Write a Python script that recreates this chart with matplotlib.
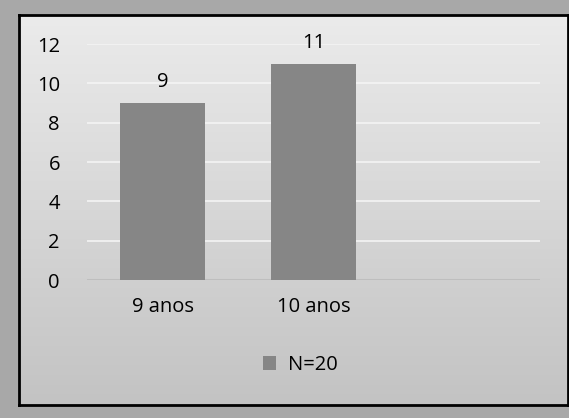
import matplotlib
matplotlib.use("Agg")
import matplotlib.pyplot as plt
import numpy as np
from matplotlib.colors import LinearSegmentedColormap

categories = ["9 anos", "10 anos", ""]
values = [9, 11, None]
series_name = "N=20"
yticks = [0, 2, 4, 6, 8, 10, 12]

W, H = 569, 418
fig = plt.figure(figsize=(W / 100, H / 100), dpi=100)
fig.patch.set_facecolor("#a8a8a8")
plt.rcParams['font.family'] = ['Open Sans', 'DejaVu Sans']
FS = 14.5

# background panel with gradient
x0, y0, x1, y1 = 19, 15, 568, 405
bg = fig.add_axes([x0 / W, 1 - y1 / H, (x1 - x0) / W, (y1 - y0) / H])
grad = np.linspace(0, 1, 256).reshape(-1, 1)
cmap = LinearSegmentedColormap.from_list("g", ["#ebebeb", "#c3c3c3"])
bg.imshow(grad, aspect="auto", cmap=cmap, extent=[0, 1, 0, 1], origin="upper")
bg.set_xticks([]); bg.set_yticks([])
for s in bg.spines.values():
    s.set_color("black"); s.set_linewidth(2)

# chart axes
ax_l, ax_r = 87, 540
ax_top, ax_bot = 44, 280
ax = fig.add_axes([ax_l / W, 1 - ax_bot / H, (ax_r - ax_l) / W, (ax_bot - ax_top) / H])
ax.patch.set_alpha(0)
xs = np.arange(len(categories))
bar_x = [x for x, v in zip(xs, values) if v is not None]
bar_v = [v for v in values if v is not None]
bars = ax.bar(bar_x, bar_v, width=0.565, color="#868686", label=series_name, zorder=3)
for x, v in zip(bar_x, bar_v):
    ax.annotate(str(v), (x, v), xytext=(0, 11.5), textcoords="offset points",
                ha="center", va="baseline", fontsize=FS, color="black")
ax.set_xlim(-0.5, len(categories) - 0.5)
ax.set_ylim(0, 12)
ax.set_yticks(yticks)
ax.set_xticks(xs)
ax.set_xticklabels(categories, fontsize=FS)
ax.set_yticklabels([str(t) for t in yticks], fontsize=FS)
ax.tick_params(length=0)
ax.tick_params(axis="y", pad=19.5)
ax.tick_params(axis="x", pad=12)
for t in yticks[1:]:
    ax.axhline(t, color="#f4f4f4", lw=1.2, zorder=1)
ax.axhline(0, color="#bdbdbd", lw=2, zorder=2)
for s in ax.spines.values():
    s.set_visible(False)

leg = fig.legend(handles=[bars], labels=[series_name], loc="center",
                 bbox_to_anchor=(300 / W, 1 - 365 / H), frameon=False,
                 fontsize=FS, handlelength=0.65, handleheight=0.65, handletextpad=0.6)

fig.savefig("out.png", dpi=100, facecolor=fig.get_facecolor())
